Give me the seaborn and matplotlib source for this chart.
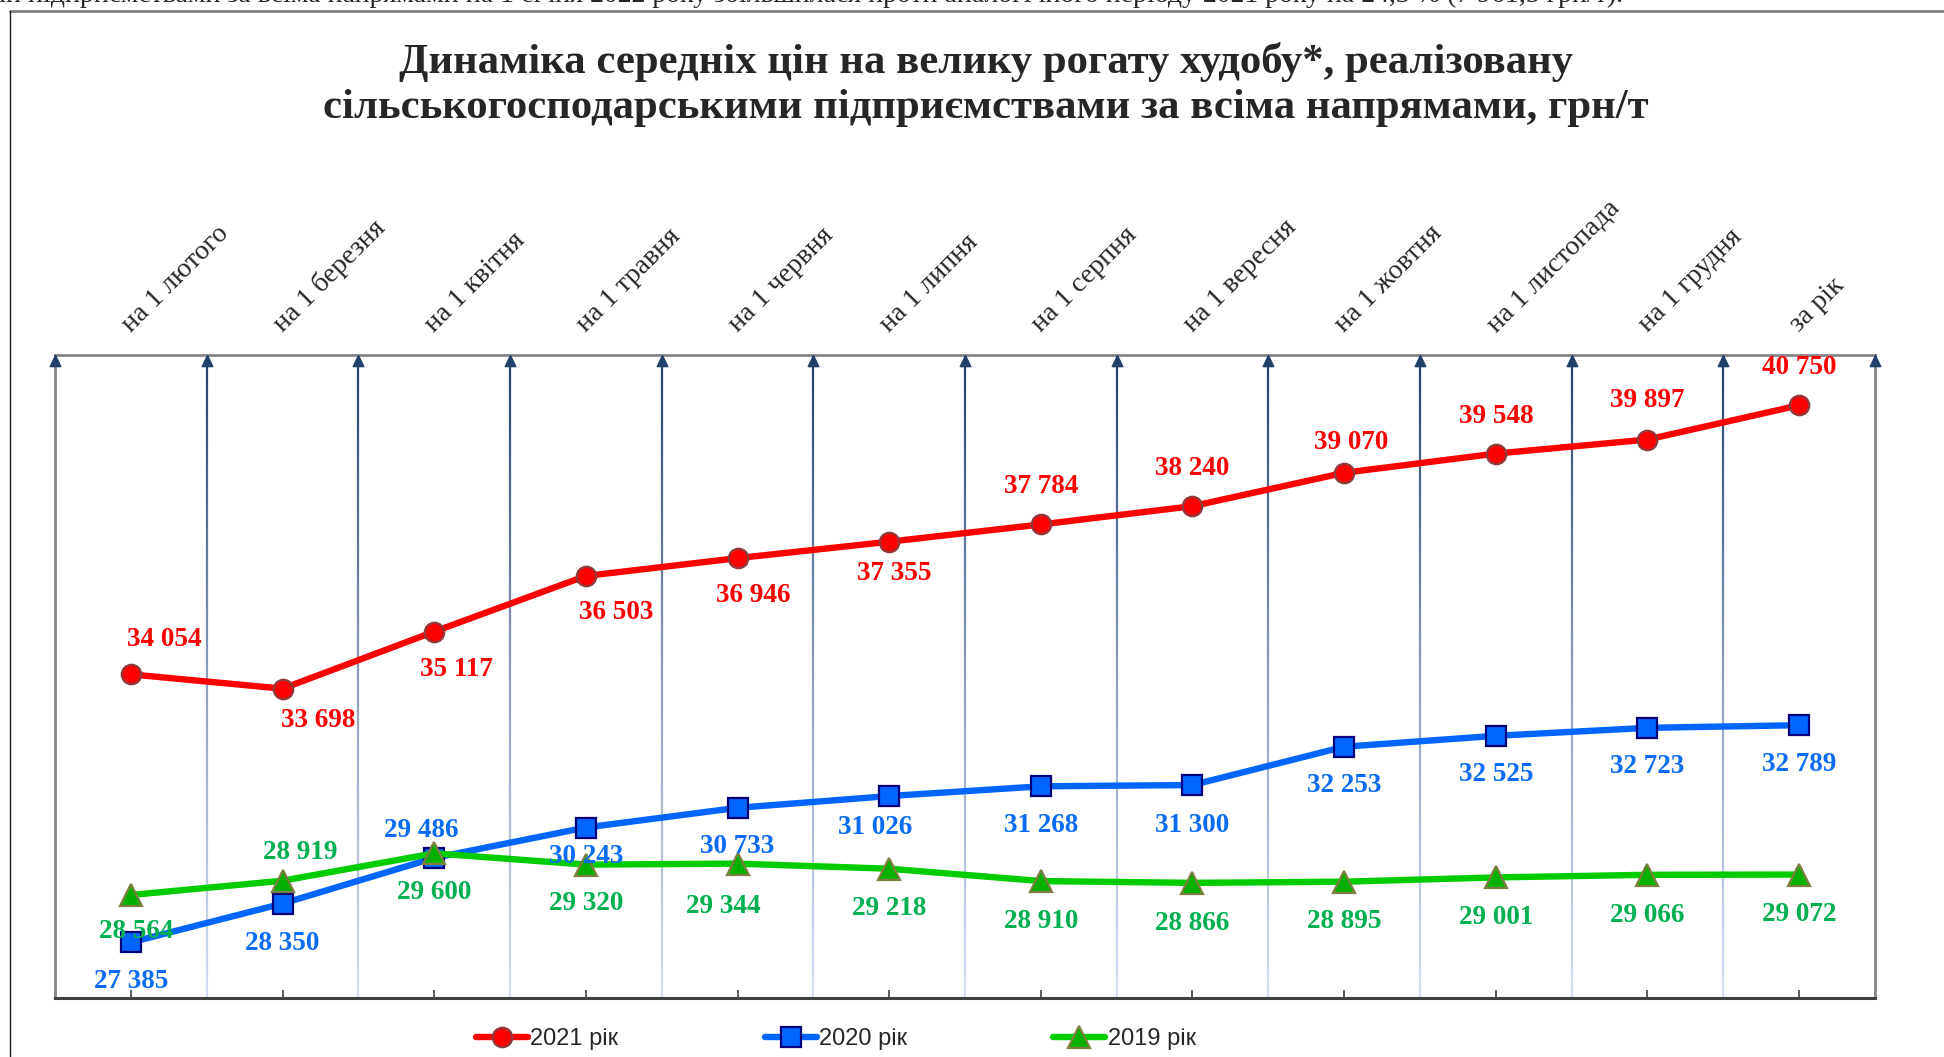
import numpy as np
import pandas as pd
import matplotlib.pyplot as plt
import seaborn as sns
import matplotlib.colors as mcolors
import matplotlib.transforms as mtransforms
from matplotlib.collections import LineCollection
from matplotlib.lines import Line2D

# ---------data------------------------------------------------------------------
periods = ['на 1 лютого', 'на 1 березня', 'на 1 квітня', 'на 1 травня', 'на 1 червня',
           'на 1 липня', 'на 1 серпня', 'на 1 вересня', 'на 1 жовтня', 'на 1 листопада',
           'на 1 грудня', 'за рік']
price_2021 = [34054, 33698, 35117, 36503, 36946, 37355, 37784, 38240, 39070, 39548, 39897, 40750]
price_2020 = [27385, 28350, 29486, 30243, 30733, 31026, 31268, 31300, 32253, 32525, 32723, 32789]
price_2019 = [28564, 28919, 29600, 29320, 29344, 29218, 28910, 28866, 28895, 29001, 29066, 29072]
series_names = ['2021 рік', '2020 рік', '2019 рік']

title = ('Динаміка середніх цін на велику рогату худобу*, реалізовану\n'
         'сільськогосподарськими підприємствами за всіма напрямами, грн/т')
top_text = ('Середні ціни реалізації великої рогатої худоби сільськогосподарськими '
            'підприємствами за всіма напрямами на 1 січня 2022 року збільшилася проти '
            'аналогічного періоду 2021 року на 24,3 % (7 961,5 грн/т).')

# label offsets in points (layout only)
off_2021 = [(24, 25), (26, -23), (16, -27), (22, -26), (11, -27), (4, -23),
            (0, 27), (0, 27), (5, 22), (0, 27), (0, 28), (0, 27)]
off_2020 = [(0, -28), (0, -29), (-9, 20), (0, -21), (0, -28), (-10, -23),
            (0, -28), (0, -29), (0, -28), (0, -28), (0, -28), (0, -28)]
off_2019 = [(4, -26), (13, 20), (0, -28), (0, -28), (-10, -31), (0, -29),
            (0, -29), (0, -29), (0, -29), (0, -29), (0, -29), (0, -29)]

# ---------plot------------------------------------------------------------------
sns.set_style('white')
plt.rcParams['font.family'] = ['Liberation Serif', 'DejaVu Serif']

fig = plt.figure(figsize=(19.44, 10.57), dpi=100)
ax = fig.add_axes([0.0283, 0.0558, 0.9362, 0.6083])

x = np.arange(len(periods))
ymin, ymax = 26000, 42000

# gradient vertical lines between categories
grad = mcolors.LinearSegmentedColormap.from_list('g', ['#D3DEF2', '#8C9EBE', '#22406A'])
ys = np.linspace(ymin, ymax, 120)
for b in np.arange(0.5, len(periods) - 0.5, 1.0):
    segs = [[(b, ys[k]), (b, ys[k + 1])] for k in range(len(ys) - 1)]
    lc = LineCollection(segs, colors=grad(np.linspace(0, 1, len(segs))), linewidths=1.6, zorder=1)
    ax.add_collection(lc)
arrow = [(0, 0), (-0.5, -1.05), (0.5, -1.05), (0, 0)]
ax.plot(np.arange(-0.5, len(periods), 1.0), [ymax] * (len(periods) + 1), linestyle='none',
        marker=arrow, markersize=16, color='#22406A', clip_on=False, zorder=4)

styles = [
    (price_2021, '#FF0000', 'o', '#FF0000', '#8E3B3B', 14, '#FF0000', off_2021),
    (price_2020, '#0066FF', 's', '#0066FF', '#00007A', 14.5, '#0A6CF5', off_2020),
    (price_2019, '#00CC00', '^', '#00B000', '#7E7E40', 16, '#00B050', off_2019),
]
for (vals, lc_, mk, mfc, mec, ms, tc, offs), name in zip(styles, series_names):
    sns.lineplot(x=x, y=vals, ax=ax, color=lc_, linewidth=4.6, marker=mk, markersize=ms,
                 markerfacecolor=mfc, markeredgecolor=mec, markeredgewidth=1.6,
                 label=name, zorder=3)
    for xi, v, (dx, dy) in zip(x, vals, offs):
        ax.annotate(f'{v:,}'.replace(',', ' '), (xi, v), xytext=(dx, dy),
                    textcoords='offset points', ha='center', va='center',
                    fontsize=19.5, fontweight='bold', color=tc, zorder=6)

ax.set_xlim(-0.5, len(periods) - 0.5)
ax.set_ylim(ymin, ymax)
ax.set_yticks([])
ax.set_xticks(x)
ax.set_xticklabels(periods, rotation=45, ha='left', va='baseline', rotation_mode='anchor',
                   fontsize=20)
shift = mtransforms.ScaledTranslation(5 / 72, 0, fig.dpi_scale_trans)
for lab in ax.get_xticklabels():
    lab.set_transform(lab.get_transform() + shift)
ax.set_xticks(np.arange(0.5, len(periods) - 0.5, 1.0), minor=True)
ax.tick_params(axis='x', which='both', bottom=True, top=False, labelbottom=False,
               labeltop=True, direction='in', length=6, width=1.2, color='#404040', pad=16)
ax.set_xlabel('')
ax.set_ylabel('')
for side in ['left', 'top', 'right']:
    ax.spines[side].set_color('#858585')
    ax.spines[side].set_linewidth(2)
ax.spines['bottom'].set_color('#404040')
ax.spines['bottom'].set_linewidth(2.2)

handles, labels = ax.get_legend_handles_labels()
ax.get_legend().remove()
fig.legend(handles, labels, loc='center', bbox_to_anchor=(0.43, 0.017), ncol=3, frameon=False,
           prop={'family': 'Liberation Sans', 'size': 17}, handlelength=2.2,
           columnspacing=6.2, handletextpad=0.1)

fig.text(0.507, 0.92, title, ha='center', va='center', fontsize=30.8, fontweight='bold',
         linespacing=1.22)
fig.text(0.835, 0.9985, top_text, ha='right', va='baseline', fontsize=20)

# page frame
fig.add_artist(Line2D([0.005, 1.0], [0.9895, 0.9895], color='#808080', linewidth=2))
fig.add_artist(Line2D([0.005, 0.005], [0.0, 0.9895], color='#202020', linewidth=1))

plt.savefig('out.png', dpi=100)
